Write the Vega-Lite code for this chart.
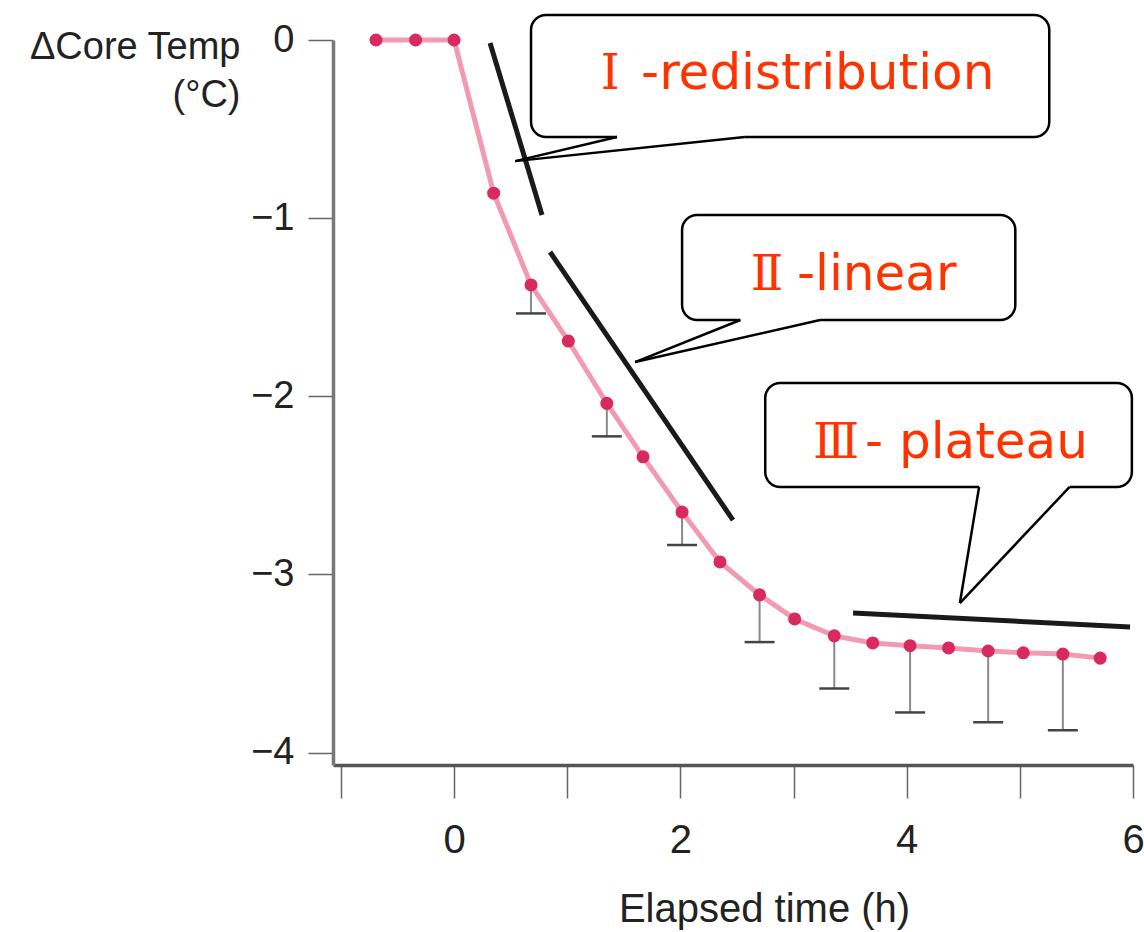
{
  "$schema": "https://vega.github.io/schema/vega-lite/v6.json",
  "width": 800,
  "height": 725,
  "autosize": {"type": "none"},
  "padding": {"left": 333, "top": 40, "right": 11, "bottom": 167},
  "background": "white",
  "config": {"view": {"stroke": null}, "font": "Liberation Sans"},
  "datasets": {
    "series": [
      {"x": -0.69, "y": 0}, {"x": -0.34, "y": 0}, {"x": 0.0, "y": 0},
      {"x": 0.35, "y": -0.86}, {"x": 0.68, "y": -1.375}, {"x": 1.01, "y": -1.69},
      {"x": 1.35, "y": -2.04}, {"x": 1.67, "y": -2.34}, {"x": 2.015, "y": -2.65},
      {"x": 2.35, "y": -2.93}, {"x": 2.70, "y": -3.115}, {"x": 3.01, "y": -3.25},
      {"x": 3.36, "y": -3.345}, {"x": 3.70, "y": -3.385}, {"x": 4.03, "y": -3.40},
      {"x": 4.37, "y": -3.413}, {"x": 4.72, "y": -3.43}, {"x": 5.03, "y": -3.44},
      {"x": 5.38, "y": -3.447}, {"x": 5.71, "y": -3.47}
    ],
    "errors": [
      {"x": 0.68, "y": -1.375, "lo": -1.535},
      {"x": 1.35, "y": -2.04, "lo": -2.225},
      {"x": 2.015, "y": -2.65, "lo": -2.835},
      {"x": 2.70, "y": -3.115, "lo": -3.38},
      {"x": 3.36, "y": -3.345, "lo": -3.64},
      {"x": 4.03, "y": -3.40, "lo": -3.775},
      {"x": 4.72, "y": -3.43, "lo": -3.83},
      {"x": 5.38, "y": -3.447, "lo": -3.875}
    ],
    "trends": [
      {"x": 0.318, "y": -0.017, "x2": 0.777, "y2": -0.982},
      {"x": 0.848, "y": -1.19, "x2": 2.465, "y2": -2.695},
      {"x": 3.526, "y": -3.217, "x2": 5.974, "y2": -3.295}
    ],
    "boxes": [
      {"x": 0.68, "x2": 5.26, "y": 0.14, "y2": -0.545},
      {"x": 2.015, "x2": 4.96, "y": -0.982, "y2": -1.572},
      {"x": 2.75, "x2": 5.99, "y": -1.926, "y2": -2.509}
    ],
    "covers": [
      {"x": 1.44, "x2": 2.57, "y": -0.545, "y2": -0.545},
      {"x": 2.53, "x2": 3.235, "y": -1.572, "y2": -1.572},
      {"x": 4.64, "x2": 5.44, "y": -2.509, "y2": -2.509}
    ],
    "pointers": [
      {"x": 1.44, "y": -0.545, "x2": 0.54, "y2": -0.68},
      {"x": 2.57, "y": -0.545, "x2": 0.54, "y2": -0.68},
      {"x": 2.53, "y": -1.572, "x2": 1.60, "y2": -1.808},
      {"x": 3.235, "y": -1.572, "x2": 1.60, "y2": -1.808},
      {"x": 4.64, "y": -2.509, "x2": 4.47, "y2": -3.161},
      {"x": 5.44, "y": -2.509, "x2": 4.47, "y2": -3.161}
    ],
    "numerals": [
      {"x": 1.379, "y": -0.275, "t": "Ⅰ"},
      {"x": 2.766, "y": -1.403, "t": "Ⅱ"},
      {"x": 3.376, "y": -2.347, "t": "Ⅲ"}
    ],
    "labels": [
      {"x": 1.653, "y": -0.275, "t": "-redistribution"},
      {"x": 3.031, "y": -1.403, "t": "-linear"},
      {"x": 3.632, "y": -2.347, "t": "- plateau"}
    ]
  },
  "layer": [
    {
      "data": {"name": "series"},
      "mark": {"type": "line", "color": "#f29ab2", "strokeWidth": 5},
      "encoding": {
        "x": {
          "field": "x", "type": "quantitative",
          "scale": {"domain": [-1.07, 6], "nice": false, "zero": false},
          "axis": {
            "values": [-1, 0, 1, 2, 3, 4, 5, 6],
            "format": "d",
            "labelExpr": "datum.value % 2 === 0 ? datum.label : ''",
            "title": "Elapsed time (h)",
            "grid": false,
            "domainColor": "#555555", "domainWidth": 3.5,
            "tickColor": "#666666", "tickWidth": 1.5, "tickSize": 33,
            "labelFont": "Liberation Sans", "labelFontSize": 40, "labelColor": "#222222",
            "labelPadding": 22, "labelFlush": false,
            "titleFont": "Liberation Sans", "titleFontSize": 40, "titleFontWeight": "normal",
            "titleColor": "#222222", "titleX": 431, "titleY": 156, "titleBaseline": "alphabetic",
            "titleAlign": "center", "titleAnchor": null
          }
        },
        "y": {
          "field": "y", "type": "quantitative",
          "scale": {"domain": [-4.07, 0], "nice": false, "zero": false},
          "axis": {
            "values": [-4, -3.5, -3, -2.5, -2, -1.5, -1, -0.5, 0],
            "format": "d",
            "labelExpr": "datum.value % 1 === 0 ? datum.label : ''",
            "title": ["ΔCore Temp", "(°C)"],
            "grid": false,
            "domainColor": "#777777", "domainWidth": 3.5,
            "tickColor": "#666666", "tickWidth": 1.5,
            "tickSize": {"condition": {"test": "datum.value % 1 !== 0", "value": 15}, "value": 25},
            "labelFont": "Liberation Sans", "labelFontSize": 38, "labelColor": "#222222",
            "labelPadding": 14,
            "titleFont": "Liberation Sans", "titleFontSize": 38, "titleFontWeight": "normal",
            "titleColor": "#222222", "titleAngle": 0, "titleAlign": "right",
            "titleBaseline": "alphabetic", "titleX": -93, "titleY": 18, "titleLineHeight": 48,
            "titleAnchor": null
          }
        }
      }
    },
    {
      "data": {"name": "errors"},
      "mark": {"type": "rule", "color": "#8a8a8a", "strokeWidth": 2},
      "encoding": {
        "x": {"field": "x", "type": "quantitative"},
        "y": {"field": "y", "type": "quantitative"},
        "y2": {"field": "lo"}
      }
    },
    {
      "data": {"name": "errors"},
      "mark": {"type": "tick", "orient": "horizontal", "size": 30, "thickness": 2.5, "color": "#444444", "opacity": 1},
      "encoding": {
        "x": {"field": "x", "type": "quantitative"},
        "y": {"field": "lo", "type": "quantitative"}
      }
    },
    {
      "data": {"name": "series"},
      "mark": {"type": "circle", "size": 170, "color": "#d92a5f", "opacity": 1},
      "encoding": {
        "x": {"field": "x", "type": "quantitative"},
        "y": {"field": "y", "type": "quantitative"}
      }
    },
    {
      "data": {"name": "trends"},
      "mark": {"type": "rule", "color": "#1a1a1a", "strokeWidth": 5},
      "encoding": {
        "x": {"field": "x", "type": "quantitative"},
        "y": {"field": "y", "type": "quantitative"},
        "x2": {"field": "x2"},
        "y2": {"field": "y2"}
      }
    },
    {
      "data": {"name": "boxes"},
      "mark": {"type": "rect", "fill": "white", "stroke": "black", "strokeWidth": 2.5, "cornerRadius": 15},
      "encoding": {
        "x": {"field": "x", "type": "quantitative"},
        "y": {"field": "y", "type": "quantitative"},
        "x2": {"field": "x2"},
        "y2": {"field": "y2"}
      }
    },
    {
      "data": {"name": "covers"},
      "mark": {"type": "rule", "color": "white", "strokeWidth": 5},
      "encoding": {
        "x": {"field": "x", "type": "quantitative"},
        "y": {"field": "y", "type": "quantitative"},
        "x2": {"field": "x2"},
        "y2": {"field": "y2"}
      }
    },
    {
      "data": {"name": "pointers"},
      "mark": {"type": "rule", "color": "black", "strokeWidth": 2.5},
      "encoding": {
        "x": {"field": "x", "type": "quantitative"},
        "y": {"field": "y", "type": "quantitative"},
        "x2": {"field": "x2"},
        "y2": {"field": "y2"}
      }
    },
    {
      "data": {"name": "numerals"},
      "mark": {"type": "text", "font": "DejaVu Serif", "fontSize": 48, "color": "#ff3300", "align": "center", "baseline": "alphabetic"},
      "encoding": {
        "x": {"field": "x", "type": "quantitative"},
        "y": {"field": "y", "type": "quantitative"},
        "text": {"field": "t"}
      }
    },
    {
      "data": {"name": "labels"},
      "mark": {"type": "text", "font": "DejaVu Sans", "fontSize": 50, "color": "#ff3300", "align": "left", "baseline": "alphabetic"},
      "encoding": {
        "x": {"field": "x", "type": "quantitative"},
        "y": {"field": "y", "type": "quantitative"},
        "text": {"field": "t"}
      }
    }
  ]
}
